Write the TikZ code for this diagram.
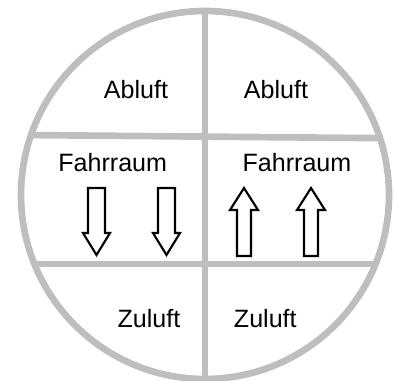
\documentclass[tikz,border=0pt]{standalone}
\usepackage{fontspec}
\setmainfont{Liberation Sans}
\definecolor{ringgray}{RGB}{190,190,190}

\begin{document}
\begin{tikzpicture}[x=0.75pt,y=-0.75pt,
  wall/.style={draw=ringgray,line width=5pt},
  label/.style={anchor=base,font=\fontsize{18.8}{21}\selectfont,inner sep=0pt},
  flowarrow/.style={draw=black,fill=white,line width=1.6pt,line join=miter}]
\useasboundingbox (0,0) rectangle (394,381);
% tunnel cross-section
\node[wall,circle,minimum size=276pt,inner sep=0pt,outer sep=0pt] (ring) at (205,195) {};
\draw[wall] (ring.north) -- (ring.south);
\draw[wall] (ring.161.95) -- (ring.18.05);
\draw[wall] (ring.202.4) -- (ring.-22.4);
% labels
\node[label] (abl) at (136,98.3) {Abluft};
\node[label] (abr) at (276,98.3) {Abluft};
\node[label] (fal) at (112.7,171.7) {Fahrraum};
\node[label] (far) at (297,171.7) {Fahrraum};
\node[label] (zul) at (149,327.7) {Zuluft};
\node[label] (zur) at (265.3,327.7) {Zuluft};
% traffic directions
\foreach \c in {96.5,166.5}
  \draw[flowarrow] (\c-8.5,188) -- (\c+8.5,188) -- (\c+8.5,233) -- (\c+13.5,233)
    -- (\c,255) -- (\c-13.5,233) -- (\c-8.5,233) -- cycle;
\foreach \c in {244,311}
  \draw[flowarrow] (\c-7,256) -- (\c+7,256) -- (\c+7,210) -- (\c+14,210)
    -- (\c,188) -- (\c-14,210) -- (\c-7,210) -- cycle;
\end{tikzpicture}
\end{document}
